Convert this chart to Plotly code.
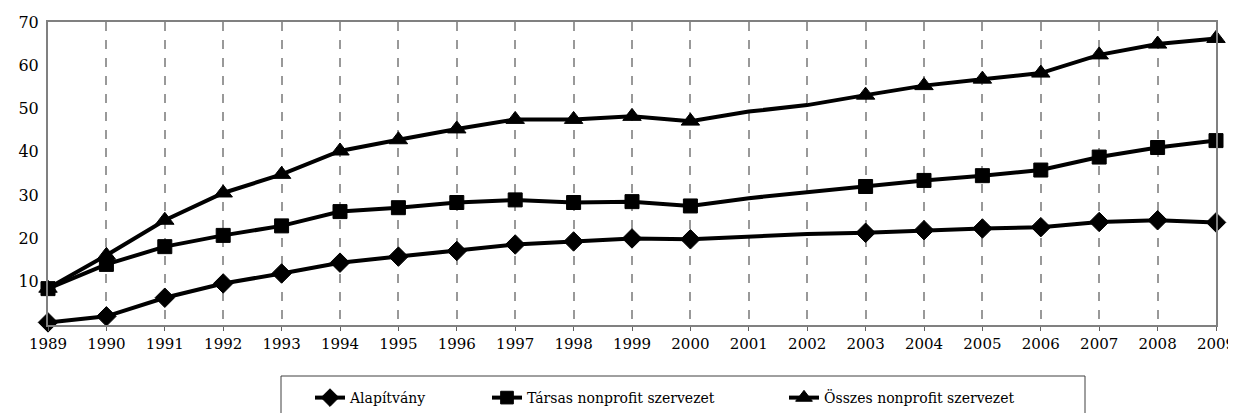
import plotly.graph_objects as go

years = list(range(1989, 2010))
alapitvany = [0.6, 2.0, 6.3, 9.6, 11.9, 14.4, 15.8, 17.1, 18.6, 19.3, 20.0, 19.8,
              20.5, 21.0, 21.3, 21.9, 22.3, 22.6, 23.8, 24.2, 23.7]
tarsas = [8.4, 14.0, 18.1, 20.7, 22.9, 26.2, 27.1, 28.3, 28.9, 28.3, 28.5, 27.5,
          29.3, 30.7, 32.0, 33.4, 34.5, 35.8, 38.8, 41.0, 42.6]
osszes = [8.5, 16.1, 24.2, 30.5, 34.8, 40.2, 42.8, 45.3, 47.5, 47.5, 48.2, 47.1,
          49.3, 50.8, 53.1, 55.3, 56.8, 58.2, 62.4, 64.9, 66.2]
no_marker_years = [2001, 2002]
y_ticks = [10, 20, 30, 40, 50, 60, 70]

series = [
    ("Alapítvány", alapitvany, "diamond", 15, "legend"),
    ("Társas nonprofit szervezet", tarsas, "square", 14, "legend2"),
    ("Összes nonprofit szervezet", osszes, "triangle-up", 16, "legend3"),
]

# page body margin offsets the figure by 8px; compensate.
# Figure is taller than the window so the legends never push the margins.
OFF = 8
W, H = 1236 - OFF, 440
PLOT_L, PLOT_R, PLOT_T, PLOT_B = 48, 1216, 22, 325  # screen px
ML, MT = PLOT_L - OFF, PLOT_T - OFF
MR = W - (PLOT_R - OFF)
MB = H - (PLOT_B - OFF)
PW, PH = PLOT_R - PLOT_L, PLOT_B - PLOT_T


def px_x(px):
    return (px - PLOT_L) / PW


def px_y(py):
    return (PLOT_B - py) / PH


fig = go.Figure()
for name, vals, sym, sz, leg in series:
    sizes = [0 if y in no_marker_years else sz for y in years]
    fig.add_trace(go.Scatter(
        x=years, y=vals, name=name, mode="lines+markers", legend=leg,
        line=dict(color="black", width=4), cliponaxis=False,
        marker=dict(symbol=sym, size=sizes, color="black", opacity=1,
                    line=dict(width=1, color="black")),
    ))

font_family = "DejaVu Serif"
leg_font = dict(family=font_family, size=14, color="black")


def leg(xpx):
    return dict(x=px_x(xpx), xanchor="left", y=px_y(398), yanchor="middle",
                orientation="h", borderwidth=0, bgcolor="rgba(0,0,0,0)",
                font=leg_font)


fig.update_layout(
    width=W, height=H,
    margin=dict(l=ML, r=MR, t=MT, b=MB, pad=0),
    paper_bgcolor="white", plot_bgcolor="white",
    font=dict(family=font_family, size=15, color="black"),
    showlegend=True,
    legend=leg(310),
    legend2=leg(487),
    legend3=leg(784),
    shapes=[dict(type="rect", xref="paper", yref="paper",
                 x0=px_x(281), x1=px_x(1085), y0=px_y(376), y1=px_y(425),
                 line=dict(color="#404040", width=1), fillcolor="rgba(0,0,0,0)",
                 layer="below")],
)
fig.update_xaxes(
    range=[1989, 2009], tickmode="array", tickvals=years,
    ticktext=[str(y) for y in years],
    tickfont=dict(family=font_family, size=15, color="black"),
    showgrid=True, gridcolor="#999999", griddash="dash", gridwidth=2,
    showline=True, linecolor="#808080", linewidth=2, mirror=True,
    ticks="outside", ticklen=4, tickcolor="#606060", tickwidth=1,
    zeroline=False, automargin=False,
)
fig.update_yaxes(
    range=[0, 70], tickmode="array", tickvals=y_ticks,
    ticktext=[str(v) for v in y_ticks],
    tickfont=dict(family=font_family, size=16, color="black"),
    showgrid=False,
    showline=True, linecolor="#808080", linewidth=2, mirror=True,
    ticks="", zeroline=False, automargin=False, ticklabelstandoff=4,
)

fig.write_html("out.html")
